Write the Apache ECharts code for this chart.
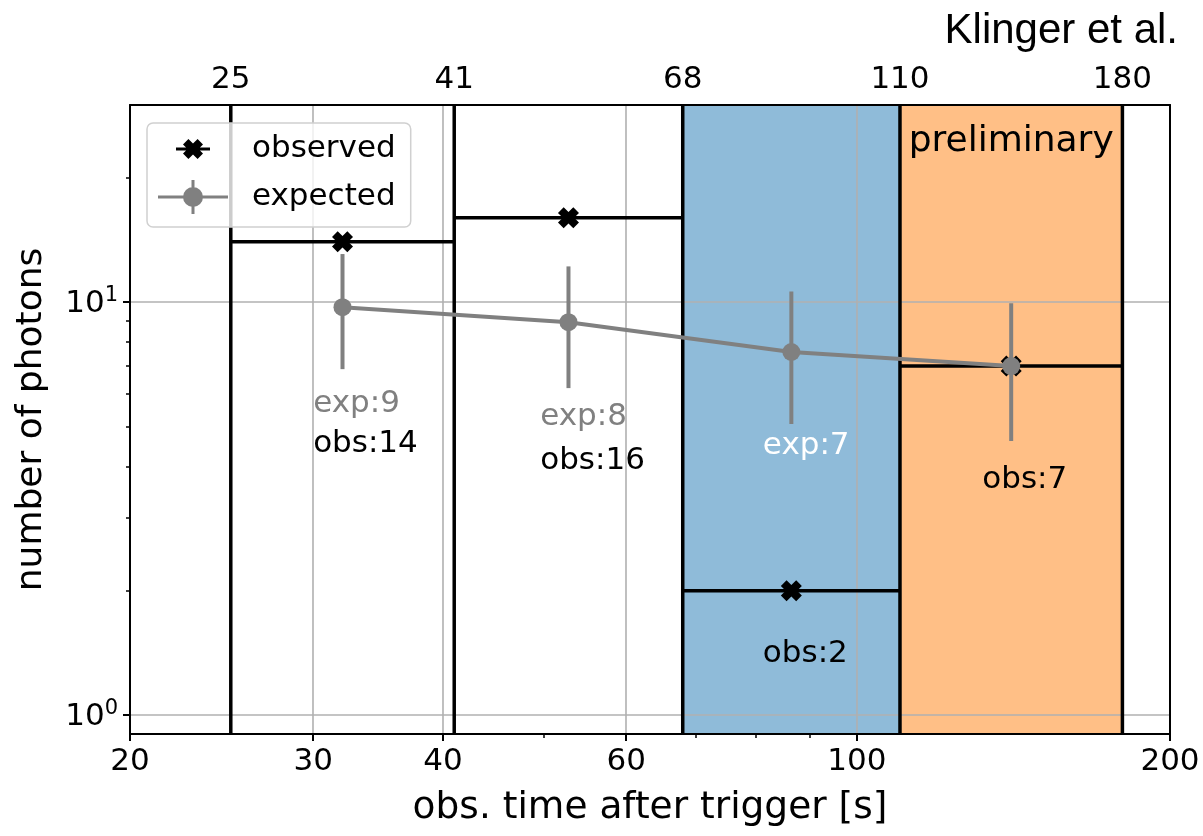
<!DOCTYPE html>
<html>
<head>
<meta charset="utf-8">
<title>photons per time bin</title>
<script src="https://cdn.jsdelivr.net/npm/echarts@6/dist/echarts.min.js"></script>
<style>
html, body { margin: 0; padding: 0; background: #fff; }
#chart { width: 1203px; height: 836px; }
</style>
</head>
<body>
<div id="chart"></div>
<script>
// bin edges of the time windows [s]
const binEdges = [25, 41, 68, 110, 180];
// observed photons per bin
const observed = [14, 16, 2, 7];
// expected photons per bin, with error bar ends
const expected = [9.72, 8.94, 7.57, 7.0];
const expLow = [6.88, 6.19, 5.07, 4.61];
const expHigh = [13.07, 12.2, 10.6, 9.94];
// shaded windows
const shadedBins = [[68, 110], [110, 180]];
// ticks
const xMajorTicks = [20, 30, 40, 60, 100, 200];
const xMinorTicks = [50, 70, 80, 90];
const yMajorTicks = [1, 10];
const yMinorTicks = [2, 3, 4, 5, 6, 7, 8, 9, 20];
// annotations
const expLabels = ['exp:9', 'exp:8', 'exp:7'];
const obsLabels = ['obs:14', 'obs:16', 'obs:2', 'obs:7'];
const labelX = [30, 49.6, 81.2, 132];
const expLabelY = [5.66, 5.27, 4.48];
const obsLabelY = [4.53, 4.12, 1.41, 3.71];

const FONT = 'DejaVu Sans';
const shadeColors = ['#8fbbd9', '#ffbf86'];
const expLabelColors = ['#808080', '#808080', '#ffffff'];
const GREY = '#808080';

// bin centres (geometric mean, log axis)
const centers = observed.map((v, i) => Math.sqrt(binEdges[i] * binEdges[i + 1]));

const annotations = [];
expLabels.forEach((t, i) => annotations.push({ x: labelX[i], y: expLabelY[i], text: t, color: expLabelColors[i] }));
obsLabels.forEach((t, i) => annotations.push({ x: labelX[i], y: obsLabelY[i], text: t, color: '#000' }));

// filled "X" marker like matplotlib's
const xSym = 'path://M0,2.7L2.7,0L5,2.3L7.3,0L10,2.7L7.7,5L10,7.3L7.3,10L5,7.7L2.7,10L0,7.3L2.3,5Z';
const obsIcon = 'path://M0,0h0.1v0.1h-0.1Z M69.9,33.9h0.1v0.1h-0.1Z M18,15.5H52V18.5H18Z M25,12.4L30.4,7L35,11.6L39.6,7L45,12.4L40.4,17L45,21.6L39.6,27L35,22.4L30.4,27L25,21.6L29.6,17Z';
const expIcon = 'path://M0,15.5H70V18.5H0Z M33.5,0H36.5V34H33.5Z M25,17A10,10 0 1,1 45,17A10,10 0 1,1 25,17Z';

const axisLineStyle = { color: '#000', width: 2 };

const chart = echarts.init(document.getElementById('chart'));
chart.setOption({
  animation: false,
  textStyle: { fontFamily: FONT },
  title: {
    text: 'Klinger et al.',
    right: 20,
    top: 5,
    textStyle: { fontFamily: 'Liberation Sans', fontSize: 42, fontWeight: 'normal', color: '#000' }
  },
  legend: {
    orient: 'vertical',
    left: 147,
    top: 123,
    z: 10,
    padding: [9, 15, 13, 11],
    itemWidth: 70,
    itemHeight: 34,
    itemGap: 14,
    backgroundColor: 'rgba(255,255,255,0.8)',
    borderColor: '#d0d0d0',
    borderWidth: 1.5,
    borderRadius: 6,
    itemStyle: { borderWidth: 0 },
    textStyle: { fontSize: 31, color: '#000', fontFamily: FONT, padding: [0, 0, 0, 19] },
    data: [
      { name: 'observed', icon: obsIcon },
      { name: 'expected', icon: expIcon }
    ]
  },
  grid: { left: 130, right: 33, top: 105, bottom: 102 },
  xAxis: [
    {
      type: 'log', min: 20, max: 200, position: 'bottom', z: 3,
      axisLine: { show: true, onZero: false, lineStyle: axisLineStyle },
      axisTick: { show: true, customValues: xMajorTicks, length: 7, lineStyle: { color: '#000', width: 2 } },
      axisLabel: { customValues: xMajorTicks, fontSize: 31, color: '#000', margin: 12, formatter: v => String(v) },
      splitLine: { show: true, lineStyle: { color: '#b0b0b0', width: 1.6 } },
      name: 'obs. time after trigger [s]', nameLocation: 'middle', nameGap: 55,
      nameTextStyle: { fontSize: 37.5, color: '#000', fontFamily: FONT }
    },
    {
      type: 'log', min: 20, max: 200, position: 'bottom', z: 3,
      axisLine: { show: false },
      axisTick: { show: true, customValues: xMinorTicks, length: 4, lineStyle: { color: '#000', width: 1.5 } },
      axisLabel: { show: false },
      splitLine: { show: false }
    },
    {
      type: 'log', min: 20, max: 200, position: 'top', z: 3,
      axisLine: { show: true, onZero: false, lineStyle: axisLineStyle },
      axisTick: { show: false },
      axisLabel: { customValues: binEdges, fontSize: 31, color: '#000', margin: 10, formatter: v => String(v) },
      splitLine: { show: false }
    }
  ],
  yAxis: [
    {
      type: 'log', min: 0.9, max: 30, position: 'left', z: 3,
      axisLine: { show: true, onZero: false, lineStyle: axisLineStyle },
      axisTick: { show: true, customValues: yMajorTicks, length: 7, lineStyle: { color: '#000', width: 2 } },
      axisLabel: {
        customValues: yMajorTicks, color: '#000', margin: 12,
        formatter: v => '{b|10}{s|' + Math.round(Math.log10(v)) + '}',
        rich: {
          b: { fontSize: 31, lineHeight: 34, verticalAlign: 'bottom', color: '#000', fontFamily: FONT },
          s: { fontSize: 21, lineHeight: 22, verticalAlign: 'top', color: '#000', fontFamily: FONT }
        }
      },
      splitLine: { show: true, lineStyle: { color: '#b0b0b0', width: 1.6 } },
      name: 'number of photons', nameLocation: 'middle', nameGap: 80,
      nameTextStyle: { fontSize: 36, color: '#000', fontFamily: FONT }
    },
    {
      type: 'log', min: 0.9, max: 30, position: 'left', z: 3,
      axisLine: { show: false },
      axisTick: { show: true, customValues: yMinorTicks, length: 4, lineStyle: { color: '#000', width: 1.5 } },
      axisLabel: { show: false },
      splitLine: { show: false }
    },
    {
      type: 'log', min: 0.9, max: 30, position: 'right', z: 3,
      axisLine: { show: true, onZero: false, lineStyle: axisLineStyle },
      axisTick: { show: false },
      axisLabel: { show: false },
      splitLine: { show: false }
    }
  ],
  series: [
    {
      // shaded windows
      type: 'custom', z: 1, silent: true,
      data: shadedBins.map(b => [b[0], b[1], 1]),
      encode: { x: [0, 1], y: 2 },
      renderItem: (params, api) => {
        const cs = params.coordSys;
        const x0 = api.coord([api.value(0), 1])[0];
        const x1 = api.coord([api.value(1), 1])[0];
        return { type: 'rect', shape: { x: x0, y: cs.y, width: x1 - x0, height: cs.height },
          style: { fill: shadeColors[params.dataIndex] } };
      }
    },
    {
      // bin edges
      type: 'custom', z: 4, silent: true,
      data: binEdges.map(e => [e, 1]),
      encode: { x: 0, y: 1 },
      renderItem: (params, api) => {
        const cs = params.coordSys;
        const x = api.coord([api.value(0), 1])[0];
        return { type: 'line', shape: { x1: x, y1: cs.y, x2: x, y2: cs.y + cs.height },
          style: { stroke: '#000', lineWidth: 3.5 } };
      }
    },
    {
      // observed level across each bin
      type: 'custom', z: 4, silent: true,
      data: observed.map((v, i) => [binEdges[i], binEdges[i + 1], v]),
      encode: { x: [0, 1], y: 2 },
      renderItem: (params, api) => {
        const p0 = api.coord([api.value(0), api.value(2)]);
        const p1 = api.coord([api.value(1), api.value(2)]);
        return { type: 'line', shape: { x1: p0[0], y1: p0[1], x2: p1[0], y2: p1[1] },
          style: { stroke: '#000', lineWidth: 3.5 } };
      }
    },
    {
      name: 'observed',
      type: 'scatter', z: 5,
      symbol: xSym, symbolSize: 21,
      itemStyle: { color: '#000', opacity: 1 },
      data: observed.map((v, i) => [centers[i], v])
    },
    {
      // error bars of expected
      type: 'custom', z: 6, silent: true,
      data: expected.map((v, i) => [centers[i], expLow[i], expHigh[i]]),
      encode: { x: 0, y: [1, 2] },
      renderItem: (params, api) => {
        const lo = api.coord([api.value(0), api.value(1)]);
        const hi = api.coord([api.value(0), api.value(2)]);
        return { type: 'line', shape: { x1: lo[0], y1: lo[1], x2: hi[0], y2: hi[1] },
          style: { stroke: GREY, lineWidth: 4 } };
      }
    },
    {
      name: 'expected',
      type: 'line', z: 7,
      symbol: 'circle', symbolSize: 18, showAllSymbol: true,
      itemStyle: { color: GREY },
      lineStyle: { color: GREY, width: 4 },
      data: expected.map((v, i) => [centers[i], v])
    },
    {
      // text annotations
      type: 'custom', z: 8, silent: true,
      data: annotations.map(a => [a.x, a.y]),
      encode: { x: 0, y: 1 },
      renderItem: (params, api) => {
        const a = annotations[params.dataIndex];
        const p = api.coord([api.value(0), api.value(1)]);
        return { type: 'text', x: p[0], y: p[1],
          style: { text: a.text, fill: a.color, font: '31px "DejaVu Sans"', align: 'left', verticalAlign: 'middle' } };
      }
    },
    {
      type: 'custom', z: 8, silent: true,
      data: [[centers[3], 24.4]],
      encode: { x: 0, y: 1 },
      renderItem: (params, api) => {
        const p = api.coord([api.value(0), api.value(1)]);
        return { type: 'text', x: p[0], y: p[1],
          style: { text: 'preliminary', fill: '#000', font: '36px "DejaVu Sans"', align: 'center', verticalAlign: 'middle' } };
      }
    }
  ]
});
</script>
</body>
</html>
